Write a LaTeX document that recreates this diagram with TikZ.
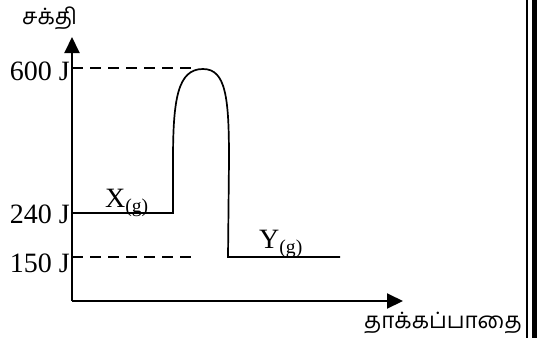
\documentclass[tikz,border=0pt]{standalone}
\usepackage{fontspec}
\setmainfont{Liberation Serif}
\newfontfamily\tamilfont[Script=Tamil]{Hind Madurai}
\usetikzlibrary{arrows.meta}
\begin{document}
\begin{tikzpicture}[x=1pt,y=-1pt,
  axis/.style={line width=2pt,-{Triangle[length=16pt,width=15pt]}},
  dashline/.style={line width=2.4pt,dash pattern=on 11pt off 7pt},
  curve/.style={line width=1.7pt},
  lbl/.style={font=\fontsize{28}{30}\selectfont,inner sep=0pt},
  tlbl/.style={font=\tamilfont\fontsize{22.5}{25}\selectfont,inner sep=0pt}]
\useasboundingbox (0,0) rectangle (537,338);
\coordinate (O) at (72,301);
\coordinate (ytop) at (72,37);
\coordinate (xend) at (403,301);
\draw[axis] (O) -- (ytop);
\draw[axis] (O) -- (xend);
% levels
\coordinate (a600) at (72,68);
\coordinate (b600) at (196,68);
\coordinate (a150) at (72,257);
\coordinate (b150) at (194,257);
\draw[dashline] (a600) -- (b600);
\draw[dashline] (a150) -- (b150);
\coordinate (x0) at (72,213);
\coordinate (x1) at (173,213);
\coordinate (top) at (203,69);
\coordinate (y0) at (228,257);
\coordinate (y1) at (340,257);
\draw[curve] (x0) -- (x1) -- (173,160) .. controls (173,98) and (178,69) .. (top)
  .. controls (226,69) and (229,98) .. (229,160) -- (y0) -- (y1);
% labels
\node[lbl,anchor=east] (l600) at (70,71) {600 J};
\node[lbl,anchor=east] (l240) at (70,214) {240 J};
\node[lbl,anchor=east] (l150) at (70,263) {150 J};
\node[lbl,anchor=base west] (lx) at (105,207) {X\textsubscript{(g)}};
\node[lbl,anchor=base west] (ly) at (259,248) {Y\textsubscript{(g)}};
\node[tlbl,anchor=west] (le) at (22,18) {சக்தி};
\node[tlbl,anchor=east] (lp) at (522,323) {தாக்கப்பாதை};
% frame lines at right
\draw[line width=1.5pt] (527,0) -- (527,338);
\fill (532,0) rectangle (537,338);
\end{tikzpicture}
\end{document}
